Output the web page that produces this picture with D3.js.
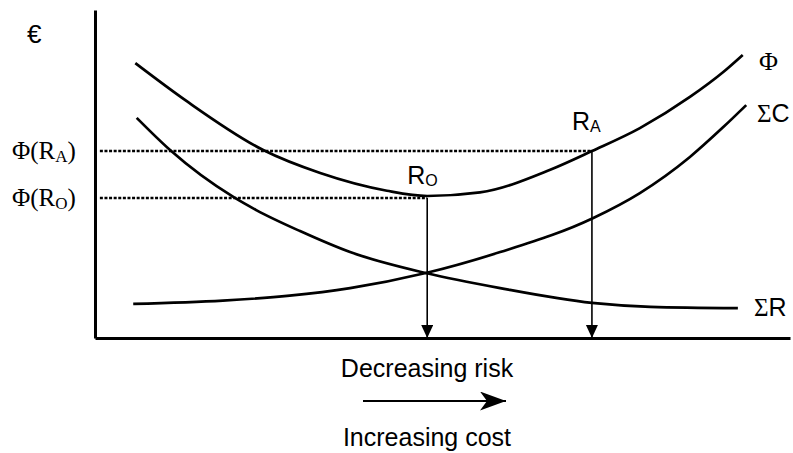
<!DOCTYPE html>
<html>
<head>
<meta charset="utf-8">
<script src="https://cdn.jsdelivr.net/npm/d3@7"></script>
<style>
    body { margin: 0; background: #fff; }
    svg { display: block; }
    .sans { font-family: 'Liberation Sans', Arial, sans-serif; }
    .serif { font-family: 'Liberation Serif', 'Times New Roman', serif; }
    .curve { fill: none; stroke: #000; stroke-width: 2.7; }
    .guide { stroke: #000; stroke-width: 2.6; stroke-dasharray: 3 1.6; }
    .drop { stroke: #000; stroke-width: 1.6; }
    .axis path { stroke: #000; stroke-width: 3; }
</style>
</head>
<body>
<svg width="793" height="453"></svg>
<script>
// curve points, x = level of safety measures (0-100), y = euro (0-100)
const phiX = [5.8, 13.2, 24.2, 32.4, 42.0, 47.8, 55.4, 65.5, 71.5, 78.4, 85.6, 90.4, 93.2];
const phiY = [83.8, 72.2, 57.3, 50.3, 44.9, 43.3, 44.4, 51.3, 57.0, 64.0, 73.5, 81.1, 86.3];

const costX = [5.5, 18.4, 28.0, 36.7, 47.6, 58.3, 71.7, 78.4, 85.6, 90.4, 93.7];
const costY = [10.4, 11.4, 12.9, 15.2, 19.8, 26.2, 36.6, 44.2, 55.2, 64.3, 71.0];

const riskX = [6.0, 10.8, 19.9, 23.2, 29.5, 36.7, 47.6, 58.3, 71.5, 79.9, 92.5];
const riskY = [67.1, 57.3, 43.0, 39.0, 32.6, 26.2, 19.8, 15.2, 10.7, 9.5, 9.1];

// optimum and accepted risk levels
const levelNames = ['O', 'A'];
const levelX = [47.8, 71.5];
const levelY = [42.7, 57.0];

const svg = d3.select('svg');

const x = d3.scaleLinear().domain([0, 100]).range([95, 790]);
const y = d3.scaleLinear().domain([0, 100]).range([338, 10]);

const defs = svg.append('defs');
defs.append('marker')
    .attr('id', 'tip')
    .attr('markerUnits', 'userSpaceOnUse')
    .attr('markerWidth', 13).attr('markerHeight', 13)
    .attr('refX', 13).attr('refY', 6)
    .attr('orient', 'auto')
    .append('path')
    .attr('d', 'M0,0L13,6L0,12Z');
defs.append('marker')
    .attr('id', 'bigtip')
    .attr('markerUnits', 'userSpaceOnUse')
    .attr('markerWidth', 27).attr('markerHeight', 20)
    .attr('refX', 26).attr('refY', 9.5)
    .attr('orient', 'auto')
    .append('path')
    .attr('d', 'M0,0L26,9.5L0,19L7,9.5Z');

const line = d3.line()
    .x((d) => x(d[0]))
    .y((d) => y(d[1]))
    .curve(d3.curveMonotoneX);

const series = [
    { name: 'phi', pts: d3.zip(phiX, phiY) },
    { name: 'cost', pts: d3.zip(costX, costY) },
    { name: 'risk', pts: d3.zip(riskX, riskY) },
];

// dotted guides to the y axis
svg.selectAll('.guide')
    .data(levelX)
    .enter()
    .append('line')
    .attr('class', 'guide')
    .attr('x1', x(0.7))
    .attr('x2', (d) => x(d))
    .attr('y1', (d, i) => y(levelY[i]))
    .attr('y2', (d, i) => y(levelY[i]));

svg.selectAll('.curve')
    .data(series)
    .enter()
    .append('path')
    .attr('class', 'curve')
    .attr('d', (s) => line(s.pts));

// drop arrows
svg.selectAll('.drop')
    .data(levelX)
    .enter()
    .append('line')
    .attr('class', 'drop')
    .attr('x1', (d) => x(d))
    .attr('x2', (d) => x(d))
    .attr('y1', (d, i) => y(levelY[i]))
    .attr('y2', y(0))
    .attr('marker-end', 'url(#tip)');

// axes without ticks
svg.append('g')
    .attr('class', 'axis')
    .attr('transform', `translate(0, ${y(0)})`)
    .call(d3.axisBottom(x).tickValues([]).tickSizeOuter(0));

svg.append('g')
    .attr('class', 'axis')
    .attr('transform', `translate(${x(0)}, 0)`)
    .call(d3.axisLeft(y).tickValues([]).tickSizeOuter(0));

// labels
svg.append('text')
    .attr('class', 'sans')
    .attr('x', 27).attr('y', 43)
    .attr('font-size', 26)
    .text('€');

svg.selectAll('.phiLabel')
    .data(levelNames)
    .enter()
    .append('text')
    .attr('class', 'serif phiLabel')
    .attr('x', 12)
    .attr('y', (d, i) => y(levelY[i]) + 8)
    .attr('font-size', 25)
    .each(function (d) {
        const t = d3.select(this);
        t.append('tspan').text('Φ(R');
        t.append('tspan').attr('font-size', 17).attr('dy', 3).text(d);
        t.append('tspan').attr('dy', -3).text(')');
    });

svg.selectAll('.levelLabel')
    .data(levelNames)
    .enter()
    .append('text')
    .attr('class', 'sans levelLabel')
    .attr('x', (d, i) => x(levelX[i]) - 20)
    .attr('y', (d, i) => y(levelY[i]) - (i === 0 ? 14 : 21))
    .attr('font-size', 25)
    .each(function (d) {
        const t = d3.select(this);
        t.append('tspan').text('R');
        t.append('tspan').attr('font-size', 16).attr('dy', 2).text(d);
    });

svg.append('text')
    .attr('class', 'serif')
    .attr('x', 759).attr('y', 70)
    .attr('font-size', 26)
    .text('Φ');

const sigma = [['C', 122, 757], ['R', 316, 754]];
sigma.forEach(([letter, base, left]) => {
    const t = svg.append('text')
        .attr('x', left)
        .attr('y', base)
        .attr('font-size', 25);
    t.append('tspan').attr('class', 'serif').text('Σ');
    t.append('tspan').attr('class', 'sans').text(letter);
});

svg.append('text')
    .attr('class', 'sans')
    .attr('x', 427).attr('y', 377)
    .attr('text-anchor', 'middle')
    .attr('font-size', 25)
    .text('Decreasing risk');

svg.append('line')
    .attr('x1', 363).attr('x2', 506)
    .attr('y1', 401).attr('y2', 401)
    .attr('stroke', '#000')
    .attr('stroke-width', 2)
    .attr('marker-end', 'url(#bigtip)');

svg.append('text')
    .attr('class', 'sans')
    .attr('x', 427).attr('y', 446)
    .attr('text-anchor', 'middle')
    .attr('font-size', 25)
    .text('Increasing cost');
</script>
</body>
</html>
